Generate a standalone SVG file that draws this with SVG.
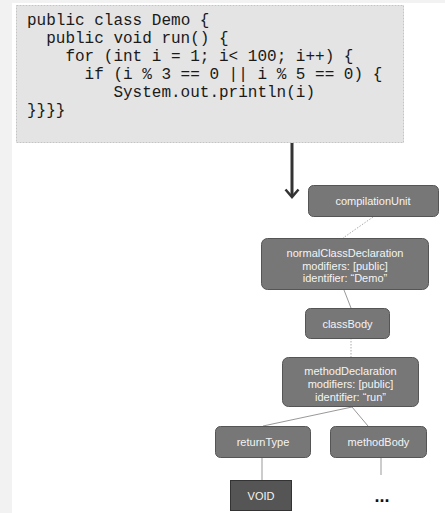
<svg xmlns="http://www.w3.org/2000/svg" width="445" height="513" viewBox="0 0 445 513">
<defs>
<style>
.code{font-family:"Liberation Mono","DejaVu Sans Mono",monospace;font-size:16px;fill:#1a1a1a}
.node rect{fill:#777;stroke:#555;stroke-width:1}
.node text{font-family:"Liberation Sans",Arial,sans-serif;font-size:11px;fill:#f4f4f4;text-anchor:middle}
.leaf rect{fill:#555;stroke:#333;stroke-width:1}
.conn line{stroke:#999;stroke-width:1}
.conn .dot{stroke-dasharray:1.5 1.5;stroke:#aaa}
</style>
</defs>
<rect x="0" y="0" width="445" height="513" fill="#fff"/>
<rect x="0" y="0" width="445" height="3" fill="#f2f2f2"/>
<rect x="0" y="0" width="12" height="513" fill="#f2f2f2"/>
<g id="code">
<rect x="16.5" y="5.5" width="387" height="137" fill="#e4e4e4" stroke="#c4c4c4" stroke-dasharray="2 1"/>
<text class="code" x="27" y="25">public class Demo {</text>
<text class="code" x="46.2" y="43">public void run() {</text>
<text class="code" x="65.4" y="61">for (int i = 1; i&lt; 100; i++) {</text>
<text class="code" x="84.6" y="79">if (i % 3 == 0 || i % 5 == 0) {</text>
<text class="code" x="113.4" y="97">System.out.println(i)</text>
<text class="code" x="27" y="115">}}}}</text>
</g>
<g id="arrow" stroke="#333" stroke-width="3" fill="none">
<line x1="292" y1="143" x2="292" y2="196"/>
<polyline points="285.5,189.5 292,197 298.5,189.5" stroke-width="2.5"/>
</g>
<g id="connectors" class="conn">
<line class="dot" x1="373" y1="217" x2="343" y2="238"/>
<line x1="344" y1="290" x2="351" y2="308"/>
<line class="dot" x1="351" y1="338" x2="351" y2="357"/>
<line x1="352" y1="407" x2="263" y2="426"/>
<line x1="352" y1="407" x2="368" y2="426"/>
<line x1="262" y1="457" x2="262" y2="480"/>
<line x1="381" y1="457" x2="381" y2="475"/>
</g>
<g id="compilationUnit" class="node">
<rect x="308.5" y="185.5" width="130" height="31" rx="5"/>
<text x="373" y="205">compilationUnit</text>
</g>
<g id="normalClassDeclaration" class="node">
<rect x="261.5" y="238.5" width="167" height="51" rx="6"/>
<text x="345" y="257">normalClassDeclaration<tspan x="345" dy="12.6">modifiers: [public]</tspan><tspan x="345" dy="12.6">identifier: “Demo”</tspan></text>
</g>
<g id="classBody" class="node">
<rect x="305.5" y="308.5" width="84" height="30" rx="5"/>
<text x="347.5" y="327.5">classBody</text>
</g>
<g id="methodDeclaration" class="node">
<rect x="282.5" y="357.5" width="136" height="49" rx="6"/>
<text x="350.5" y="375">methodDeclaration<tspan x="350.5" dy="13">modifiers: [public]</tspan><tspan x="350.5" dy="13">identifier: “run”</tspan></text>
</g>
<g id="returnType" class="node">
<rect x="215.5" y="426.5" width="95" height="31" rx="5"/>
<text x="263" y="446">returnType</text>
</g>
<g id="methodBody" class="node">
<rect x="330.5" y="426.5" width="96" height="31" rx="5"/>
<text x="378.5" y="446">methodBody</text>
</g>
<g id="VOID" class="node leaf">
<rect x="230.5" y="480.5" width="61" height="30"/>
<text x="261" y="500">VOID</text>
</g>
<g id="ellipsis">
<text x="382" y="502" font-family="Liberation Sans,Arial,sans-serif" font-size="18" font-weight="bold" text-anchor="middle" fill="#111">...</text>
</g>
</svg>
